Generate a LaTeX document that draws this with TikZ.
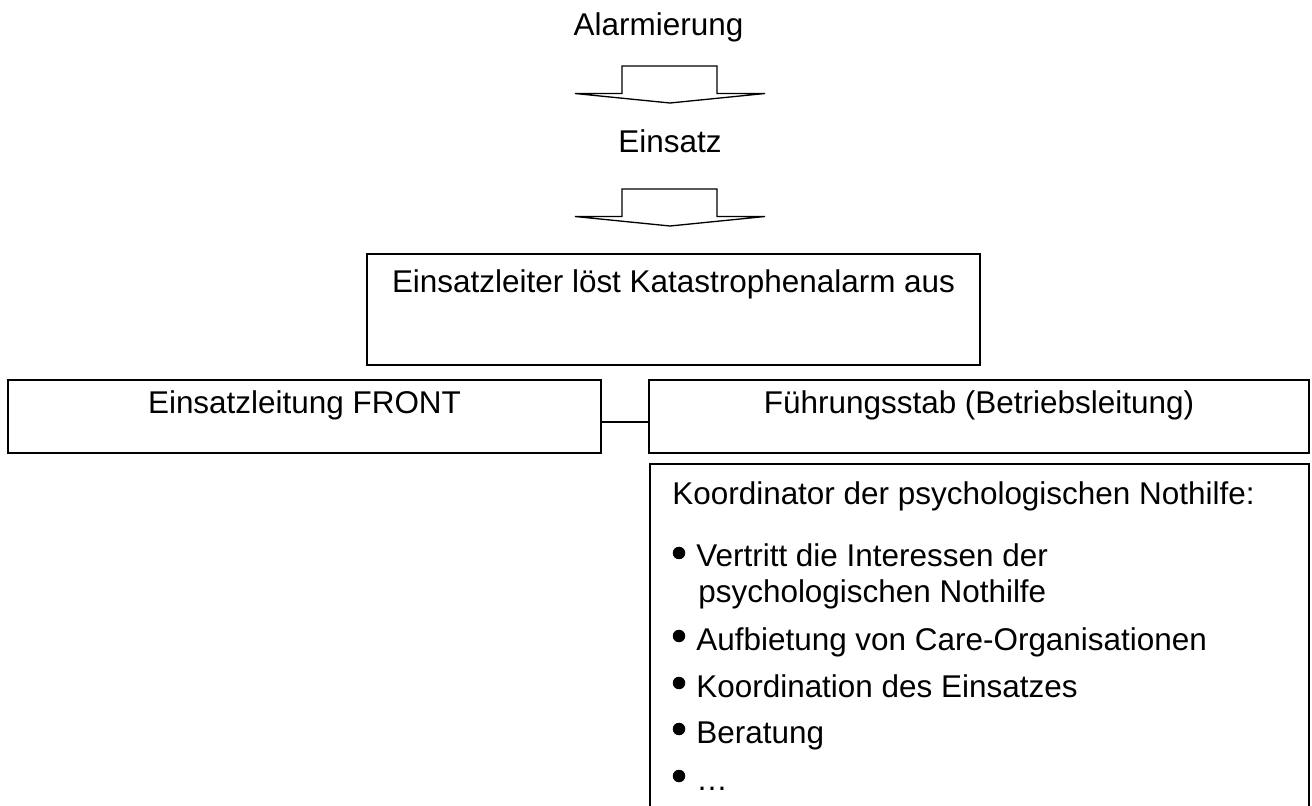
\documentclass[tikz,border=0pt]{standalone}
\usepackage{fontspec}
\setmainfont{Liberation Sans}
\usepackage{tikz}
\usetikzlibrary{positioning}

\tikzset{
    box/.style={draw, rectangle, line width=1.1pt, inner sep=0pt},
    txt/.style={anchor=base, inner sep=0pt, font=\fontsize{17.9}{21.5}\selectfont},
    itemtxt/.style={txt, anchor=base west},
    dot/.style={circle, fill, inner sep=0pt, minimum size=0.25cm},
    flatarrow/.style={draw, line width=0.75pt, line join=miter}
}

\begin{document}
\begin{tikzpicture}
        \path[use as bounding box] (0, 0) rectangle (26.24, -16.12);
        \clip (0, 0) rectangle (26.24, -16.12);

        \node[txt] (alarm) at (13.17, -0.72) {Alarmierung};
        \node[txt] (einsatz) at (13.4, -3.06) {Einsatz};

        % die beiden breiten Pfeile
        \foreach \t in {-1.32, -3.78} {
            \draw[flatarrow] (12.44, \t) -- (14.34, \t) -- (14.34, \t-0.55)
                -- (15.3, \t-0.55) -- (13.4, \t-0.74) -- (11.5, \t-0.55)
                -- (12.44, \t-0.55) -- cycle;
        }

        \node[box, line width=0.85pt, minimum width=12.26cm, minimum height=2.22cm] (leiter) at (13.47, -6.19) {};
        \node[txt] (leitertext) at (13.47, -5.86) {Einsatzleiter löst Katastrophenalarm aus};

        \node[box, minimum width=11.86cm, minimum height=1.46cm] (front) at (6.09, -8.33) {};
        \node[txt] (fronttext) at (6.09, -8.28) {Einsatzleitung FRONT};
        \node[box, minimum width=13.2cm, minimum height=1.46cm] (stab) at (19.58, -8.33) {};
        \node[txt] (stabtext) at (19.58, -8.28) {Führungsstab (Betriebsleitung)};

        \draw[line width=1.1pt] ([yshift=-0.11cm]front.east) -- ([yshift=-0.11cm]stab.west);

        \node[box, minimum width=13.18cm, minimum height=7.32cm] (koord) at (19.59, -12.94) {};
        \node[itemtxt] (koordtext) at (13.44, -10.1) {Koordinator der psychologischen Nothilfe:};

        \node[dot] (d1) at (13.58, -11.06) {};
        \node[dot] (d2) at (13.58, -12.72) {};
        \node[dot] (d3) at (13.58, -13.66) {};
        \node[dot] (d4) at (13.58, -14.58) {};
        \node[dot] (d5) at (13.58, -15.52) {};

        \node[itemtxt] (i1) at (13.92, -11.34) {Vertritt die Interessen der};
        \node[itemtxt] (i1b) at (13.96, -12.06) {psychologischen Nothilfe};
        \node[itemtxt] (i2) at (13.92, -13.0) {Aufbietung von Care-Organisationen};
        \node[itemtxt] (i3) at (13.92, -13.94) {Koordination des Einsatzes};
        \node[itemtxt] (i4) at (13.92, -14.86) {Beratung};
        \node[itemtxt] (i5) at (13.92, -15.8) {…};
    \end{tikzpicture}
\end{document}
